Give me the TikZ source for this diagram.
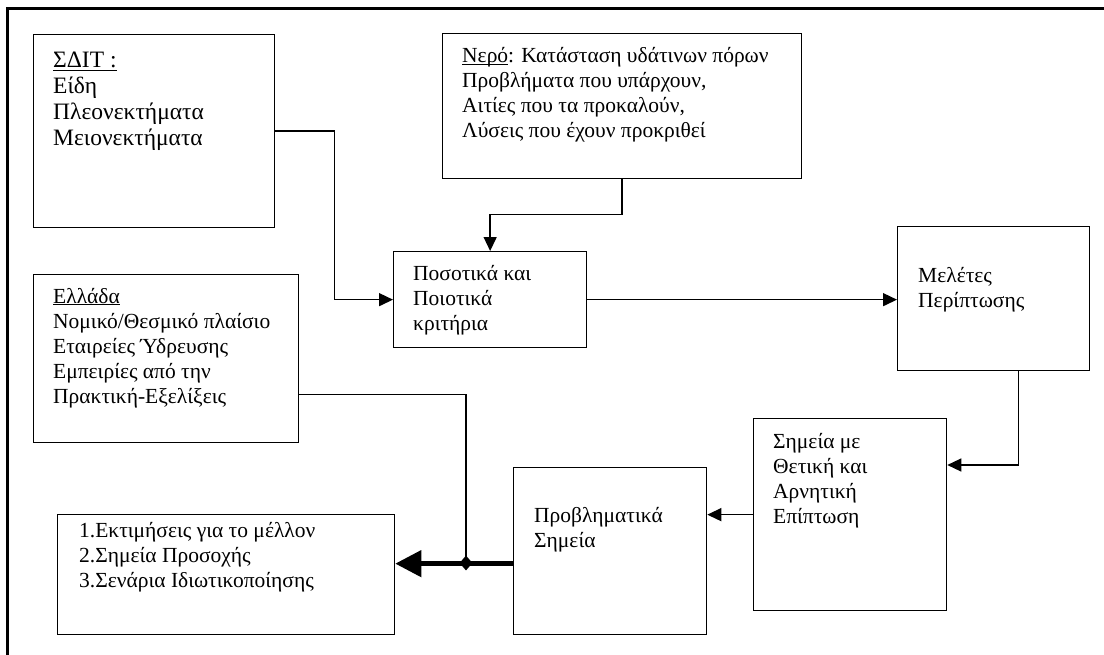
\documentclass[tikz,border=0pt]{standalone}
\usepackage{fontspec}
\setmainfont{Liberation Serif}
\usetikzlibrary{arrows.meta,shapes.geometric}
\tikzset{
  box/.style={draw, line width=1.3bp, inner sep=0pt, anchor=north west},
  txt/.style={inner sep=0pt, anchor=base west, font=\fontsize{21.5bp}{25bp}\selectfont},
  bigtxt/.style={txt, font=\fontsize{23.5bp}{26bp}\selectfont},
  conn/.style={line width=1.4bp},
  arr/.style={conn, -{Triangle[length=14bp,width=13bp]}},
  bigarr/.style={line width=4.5bp, -{Triangle[length=26bp,width=26bp]}},
  junct/.style={diamond, fill, inner sep=0pt, minimum width=13bp, minimum height=15bp},
  frame/.style={line width=3.5bp}
}
\newcommand{\lines}[1]{\begin{tabular}[t]{@{}l@{}}#1\end{tabular}}
\begin{document}
\begin{tikzpicture}[x=1bp, y=-1bp]
\useasboundingbox (0,0) rectangle (1104,655);

% page frame (top and left edges only)
\draw[frame] (1104,8.5) -- (7.5,8.5) -- (7.5,655);

% boxes
\node[box, minimum width=241bp, minimum height=193bp] (sdit)   at (33,34)  {};
\node[box, minimum width=359bp, minimum height=145bp] (nero)   at (442,33) {};
\node[box, minimum width=193bp, minimum height=96bp]  (posot)  at (393,251) {};
\node[box, minimum width=192bp, minimum height=144bp] (melet)  at (897,226) {};
\node[box, minimum width=265bp, minimum height=168bp] (ellada) at (33,274) {};
\node[box, minimum width=193bp, minimum height=192bp] (simeia) at (753,418) {};
\node[box, minimum width=193bp, minimum height=167bp] (provl)  at (513,467) {};
\node[box, minimum width=337bp, minimum height=120bp] (outc)   at (57,514) {};

% box texts
\node[bigtxt] (tsdit) at (53,68) {\lines{\underline{ΣΔΙΤ :}\\Είδη\\Πλεονεκτήματα\\Μειονεκτήματα}};
\node[txt] (tnero) at (462,63) {\lines{\underline{Νε\smash{ρ}ό}: Κατάσταση υδάτινων πόρων\\Προβλήματα που υπάρχουν,\\Αιτίες που τα προκαλούν,\\Λύσεις που έχουν προκριθεί}};
\node[txt] (tposot) at (413,280) {\lines{Ποσοτικά και\\Ποιοτικά\\κριτήρια}};
\node[txt] (tmelet) at (918,282) {\lines{Μελέτες\\Περίπτωσης}};
\node[txt] (tellada) at (53,303) {\lines{\underline{Ελλάδα}\\Νομικό/Θεσμικό πλαίσιο\\Εταιρείες Ύδρευσης\\Εμπειρίες από την\\Πρακτική-Εξελίξεις}};
\node[txt] (tsimeia) at (773,448) {\lines{Σημεία με\\Θετική και\\Αρνητική\\Επίπτωση}};
\node[txt] (tprovl) at (534,522) {\lines{Προβληματικά\\Σημεία}};
\node[txt] (toutc) at (79,537) {\lines{1.Εκτιμήσεις για το μέλλον\\2.Σημεία Προσοχής\\3.Σενάρια Ιδιωτικοποίησης}};

% junction on the thick arrow
\node[junct] (jn) at (466,563) {};

% connectors
\draw[arr] (sdit.east) -- ++(59,0) |- (posot.west);
\draw[arr] (nero.south) -- ++(0,35) -| (posot.north);
\draw[arr] (posot.east) -- (posot.east -| melet.west);
\draw[arr] ([xshift=25bp]melet.south) |- ([yshift=-47bp]simeia.north east);
\draw[arr] (simeia.west) -- (simeia.west -| provl.east);
\draw[conn] ([yshift=-36bp]ellada.east) -| (jn.center);
\draw[bigarr] ([yshift=-12.5bp]provl.west) -- ([yshift=-12.5bp]provl.west -| outc.east);
\end{tikzpicture}
\end{document}
